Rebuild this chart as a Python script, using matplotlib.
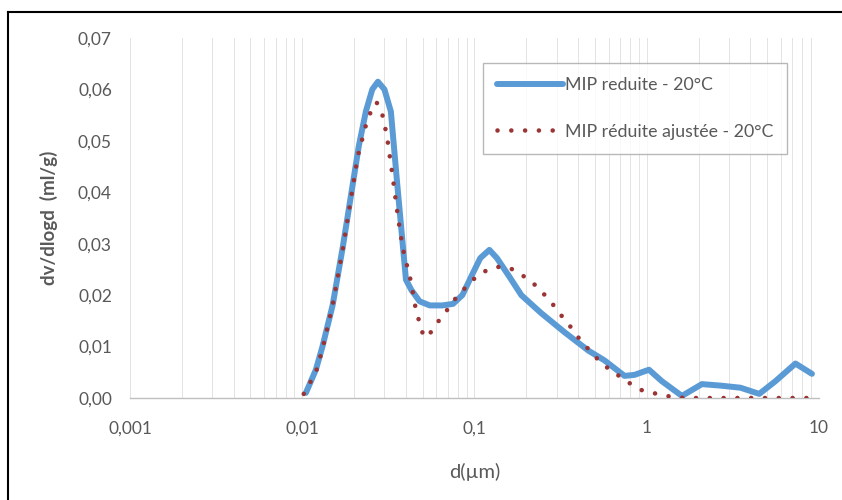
import numpy as np
import matplotlib.pyplot as plt
from matplotlib.lines import Line2D
from matplotlib.ticker import FixedLocator, LogLocator, NullFormatter

plt.rcParams['font.family'] = ['Lato', 'DejaVu Sans']

# MIP reduite - 20°C
d_blue = [0.0105, 0.012, 0.0131, 0.0150, 0.0172, 0.0213, 0.0234, 0.0255, 0.0275, 0.030,
          0.0327, 0.0354, 0.040, 0.043, 0.048, 0.055, 0.065, 0.075, 0.085, 0.097,
          0.108, 0.122, 0.135, 0.16, 0.187, 0.244, 0.333, 0.459, 0.569, 0.743,
          0.85, 1.03, 1.22, 1.6, 2.09, 2.7, 3.5, 4.5, 5.6, 7.3, 9.1]
v_blue = [0.001, 0.0055, 0.010, 0.018, 0.0294, 0.049, 0.0557, 0.060, 0.0615, 0.060,
          0.0557, 0.0425, 0.023, 0.021, 0.0188, 0.018, 0.018, 0.0183, 0.020, 0.024,
          0.0272, 0.0288, 0.0272, 0.0235, 0.020, 0.0165, 0.0128, 0.0092, 0.0073, 0.0043,
          0.0045, 0.0055, 0.0033, 0.0004, 0.0027, 0.0024, 0.002, 0.0008, 0.0033, 0.0067, 0.0047]

# MIP réduite ajustée - 20°C
d_red = [0.0102, 0.012, 0.0131, 0.015, 0.0172, 0.021, 0.0234, 0.0255, 0.027, 0.029,
         0.031, 0.0335, 0.036, 0.0384, 0.0428, 0.0457, 0.0508, 0.055, 0.061, 0.068,
         0.076, 0.086, 0.098, 0.112, 0.135, 0.16, 0.187, 0.218, 0.25, 0.285,
         0.32, 0.36, 0.40, 0.45, 0.51, 0.59, 0.69, 0.81, 0.95, 1.15,
         1.4, 1.7, 2.5, 4.0, 6.0, 8.5]
v_red = [0.0008, 0.005, 0.0095, 0.018, 0.029, 0.047, 0.053, 0.0565, 0.0575, 0.0555,
         0.051, 0.043, 0.035, 0.029, 0.0226, 0.0171, 0.0118, 0.0125, 0.0147, 0.0167,
         0.019, 0.021, 0.023, 0.0245, 0.0255, 0.0253, 0.024, 0.0224, 0.0204, 0.0182,
         0.016, 0.0139, 0.0118, 0.0098, 0.0078, 0.0059, 0.0043, 0.0027, 0.0014, 0.0008,
         0.0002, 0.0, 0.0, 0.0, 0.0, 0.0]

x_ticks = [0.001, 0.01, 0.1, 1, 10]
x_ticklabels = ['0,001', '0,01', '0,1', '1', '10']
y_ticks = [0.0, 0.01, 0.02, 0.03, 0.04, 0.05, 0.06, 0.07]

grey = '#595959'

fig = plt.figure(figsize=(8.42, 5.0), dpi=100)
ax = fig.add_axes([130 / 842, 1 - 398 / 500, (819 - 130) / 842, 360 / 500])

ax.set_xscale('log')
ax.set_xlim(0.001, 10)
ax.set_ylim(0, 0.07)

ax.xaxis.set_major_locator(FixedLocator(x_ticks))
ax.set_xticklabels(x_ticklabels)
ax.xaxis.set_minor_locator(LogLocator(base=10, subs=np.arange(2, 10)))
ax.xaxis.set_minor_formatter(NullFormatter())
ax.set_yticks(y_ticks)
ax.set_yticklabels(['{:.2f}'.format(v).replace('.', ',') for v in y_ticks])

ax.grid(True, which='both', axis='x', color='#E3E3E3', linewidth=0.7)
ax.set_axisbelow(True)
for s in ['top', 'right', 'left']:
    ax.spines[s].set_visible(False)
ax.spines['bottom'].set_color('#BFBFBF')
ax.spines['bottom'].set_linewidth(1.0)
ax.tick_params(axis='both', which='both', length=0, colors=grey, labelsize=12.5)
ax.tick_params(axis='x', pad=16)
ax.tick_params(axis='y', pad=13)

ax.plot(d_blue, v_blue, color='#5B9BD5', linewidth=4.3, solid_capstyle='round',
        solid_joinstyle='round', label='MIP reduite - 20°C', zorder=3)
ax.plot(d_red, v_red, color='#9B3535', linewidth=3.3, linestyle=(0, (0.01, 3.0)),
        dash_capstyle='round', label='MIP réduite ajustée - 20°C', zorder=4)

ax.set_xlabel('d(µm)', color=grey, fontsize=14.5, labelpad=19)
ax.set_ylabel('dv/dlogd  (ml/g)', color=grey, fontsize=13.5, fontweight='bold', labelpad=14)

leg = ax.legend(loc='upper left', bbox_to_anchor=(0.512, 0.93), fontsize=12.8,
                frameon=True, fancybox=False, handlelength=3.7, labelspacing=1.7,
                handletextpad=0.1, borderpad=0.8, borderaxespad=0)
leg.get_frame().set_edgecolor('#A6A6A6')
leg.get_frame().set_linewidth(1.0)
for t in leg.get_texts():
    t.set_color(grey)

# outer chart border (top and left visible)
fig.add_artist(Line2D([8 / 842, 1.0], [1 - 12 / 500, 1 - 12 / 500], color='black', linewidth=1.5))
fig.add_artist(Line2D([8 / 842, 8 / 842], [0.0, 1 - 12 / 500], color='black', linewidth=1.5))

fig.savefig('out.png', dpi=100)
